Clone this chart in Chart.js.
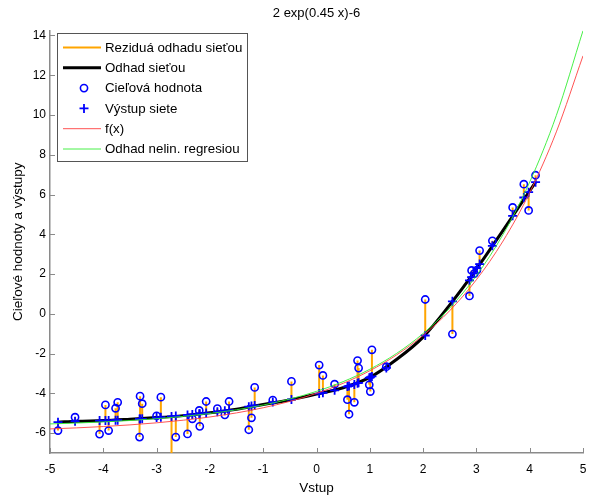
<!DOCTYPE html>
<html><head><meta charset="utf-8">
<script src="https://cdn.jsdelivr.net/npm/chart.js@4.4.0/dist/chart.umd.min.js"></script>
<style>html,body{margin:0;padding:0;background:#fff;}canvas{display:block;}</style>
</head><body>
<canvas id="c" width="591" height="497"></canvas>
<script>
const titleText = '2 exp(0.45 x)-6';
const xTitle = 'Vstup';
const yTitle = 'Cieľové hodnoty a výstupy';
const seriesNames = ['Reziduá odhadu sieťou', 'Odhad sieťou', 'Cieľová hodnota', 'Výstup siete', 'f(x)', 'Odhad nelin. regresiou'];
const xTicks = [-5, -4, -3, -2, -1, 0, 1, 2, 3, 4, 5];
const yTicks = [-6, -4, -2, 0, 2, 4, 6, 8, 10, 12, 14];

// training samples: input, target value, network output
const sampleX = [-4.85, -4.53, -4.07, -3.96, -3.90, -3.77, -3.73, -3.32, -3.31, -3.27, -3.00, -2.92, -2.72, -2.64, -2.42, -2.33, -2.20, -2.19, -2.07, -1.86, -1.72, -1.64, -1.27, -1.22, -1.16, -0.82, -0.47, 0.05, 0.12, 0.34, 0.58, 0.61, 0.71, 0.77, 0.79, 0.99, 1.01, 1.04, 1.31, 2.04, 2.55, 2.87, 2.91, 2.96, 3.01, 3.06, 3.30, 3.68, 3.89, 3.98, 4.11];
const targetY = [-5.87, -5.20, -6.05, -4.58, -5.87, -4.75, -4.45, -6.20, -4.14, -4.52, -5.13, -4.19, -7.60, -6.20, -6.04, -5.28, -4.86, -5.66, -4.41, -4.77, -5.08, -4.41, -5.83, -5.23, -3.70, -4.34, -3.40, -2.58, -3.10, -3.54, -4.32, -5.05, -4.45, -2.35, -2.73, -3.57, -3.91, -1.81, -2.66, 0.72, -1.02, 0.90, 2.18, 2.02, 2.20, 3.18, 3.67, 5.35, 6.52, 5.20, 6.97];
const outputY = [-5.45, -5.40, -5.37, -5.37, -5.36, -5.35, -5.35, -5.29, -5.29, -5.28, -5.22, -5.20, -5.16, -5.14, -5.09, -5.06, -5.02, -5.02, -4.99, -4.92, -4.87, -4.84, -4.67, -4.64, -4.61, -4.44, -4.31, -4.01, -3.97, -3.85, -3.66, -3.63, -3.55, -3.49, -3.47, -3.22, -3.19, -3.15, -2.72, -1.09, 0.63, 1.68, 1.85, 2.05, 2.30, 2.50, 3.42, 4.93, 5.85, 6.12, 6.62];

// network estimate curve
const netX = [-4.85, -4.5, -4.0, -3.5, -3.0, -2.5, -2.0, -1.5, -1.0, -0.5, 0.0, 0.5, 1.0, 1.5, 2.0, 2.5, 3.0, 3.5, 4.11];
const netY = [-5.45, -5.40, -5.37, -5.30, -5.22, -5.12, -4.98, -4.80, -4.56, -4.33, -4.04, -3.72, -3.20, -2.30, -1.17, 0.45, 2.25, 4.20, 6.62];

// f(x) and regression estimate curves
const curveX = [-5, -4.5, -4, -3.5, -3, -2.5, -2, -1.5, -1, -0.5, 0, 0.5, 1, 1.5, 2, 2.5, 3, 3.5, 4, 4.5, 5];
const fY = [-5.789, -5.736, -5.669, -5.586, -5.482, -5.351, -5.187, -4.982, -4.725, -4.403, -4.000, -3.495, -2.863, -2.072, -1.081, 0.160, 1.715, 3.661, 6.099, 9.152, 12.975];
const regY = [-5.537, -5.493, -5.437, -5.366, -5.275, -5.159, -5.012, -4.825, -4.587, -4.285, -3.900, -3.411, -2.788, -1.996, -0.989, 0.291, 1.920, 3.992, 6.627, 9.979, 14.24];

const FONT = '"Liberation Sans", Arial, Helvetica, sans-serif';
const AXIS = '#8a8a8a';
const ORANGE = '#FFA500';

const residualPts = [];
sampleX.forEach((x, i) => {
  residualPts.push({x: x, y: outputY[i]}, {x: x, y: targetY[i]}, {x: x, y: null});
});
const zip = (xs, ys) => xs.map((x, i) => ({x: x, y: ys[i]}));

const datasets = [
  {label: seriesNames[0], type: 'line', data: residualPts, borderColor: ORANGE, borderWidth: 2, pointRadius: 0, spanGaps: false, tension: 0, order: 6, _leg: 'line'},
  {label: seriesNames[1], type: 'line', data: zip(netX, netY), borderColor: '#000', borderWidth: 3, pointRadius: 0, cubicInterpolationMode: 'monotone', order: 5, _leg: 'line'},
  {label: seriesNames[2], type: 'scatter', data: zip(sampleX, targetY), showLine: false, pointStyle: 'circle', pointRadius: 3.6, borderColor: '#0000FF', backgroundColor: 'rgba(0,0,0,0)', pointBorderWidth: 1.6, order: 4, _leg: 'circle'},
  {label: seriesNames[3], type: 'scatter', data: zip(sampleX, outputY), showLine: false, pointStyle: 'cross', pointRadius: 4.5, borderColor: '#0000FF', pointBorderWidth: 1.8, order: 3, _leg: 'cross'},
  {label: seriesNames[4], type: 'line', data: zip(curveX, fY), borderColor: '#FF4040', borderWidth: 0.9, pointRadius: 0, cubicInterpolationMode: 'monotone', order: 2, _leg: 'line'},
  {label: seriesNames[5], type: 'line', data: zip(curveX, regY), borderColor: '#33EE33', borderWidth: 0.9, pointRadius: 0, cubicInterpolationMode: 'monotone', order: 1, _leg: 'line'}
];

const decor = {
  id: 'decor',
  afterDraw(chart) {
    const ctx = chart.ctx, xs = chart.scales.x, ys = chart.scales.y, ca = chart.chartArea;
    ctx.save();
    // inward tick marks
    ctx.strokeStyle = AXIS; ctx.lineWidth = 1;
    ctx.beginPath();
    xs.ticks.forEach(t => { const p = Math.round(xs.getPixelForValue(t.value)) + 0.5; ctx.moveTo(p, ca.bottom); ctx.lineTo(p, ca.bottom - 5); });
    ys.ticks.forEach(t => { const p = Math.round(ys.getPixelForValue(t.value)) + 0.5; ctx.moveTo(ca.left, p); ctx.lineTo(ca.left + 5, p); });
    ctx.stroke();
    // title
    ctx.fillStyle = '#000'; ctx.font = '13px ' + FONT; ctx.textAlign = 'center'; ctx.textBaseline = 'middle';
    ctx.fillText(titleText, (ca.left + ca.right) / 2, 13);
    // legend
    const L = 57, T = 33, W = 190, H = 128;
    ctx.fillStyle = '#fff'; ctx.fillRect(L, T, W, H);
    ctx.strokeStyle = '#555'; ctx.lineWidth = 1; ctx.strokeRect(L + 0.5, T + 0.5, W, H);
    ctx.font = '13.3px ' + FONT;
    chart.data.datasets.forEach((ds, i) => {
      const y = 47.5 + i * 20.3;
      if (ds._leg === 'line') {
        ctx.strokeStyle = ds.borderColor; ctx.lineWidth = ds.borderWidth;
        ctx.beginPath(); ctx.moveTo(63, y); ctx.lineTo(101, y); ctx.stroke();
      } else if (ds._leg === 'circle') {
        ctx.strokeStyle = ds.borderColor; ctx.lineWidth = ds.pointBorderWidth;
        ctx.beginPath(); ctx.arc(84, y, ds.pointRadius, 0, Math.PI * 2); ctx.stroke();
      } else {
        ctx.strokeStyle = ds.borderColor; ctx.lineWidth = ds.pointBorderWidth;
        ctx.beginPath(); ctx.moveTo(84 - ds.pointRadius, y); ctx.lineTo(84 + ds.pointRadius, y);
        ctx.moveTo(84, y - ds.pointRadius); ctx.lineTo(84, y + ds.pointRadius); ctx.stroke();
      }
      ctx.fillStyle = '#000'; ctx.textAlign = 'left'; ctx.textBaseline = 'middle';
      ctx.fillText(ds.label, 105, y + 0.5);
    });
    ctx.restore();
  }
};

new Chart(document.getElementById('c'), {
  type: 'scatter',
  data: {datasets: datasets},
  options: {
    responsive: false, animation: false, devicePixelRatio: 1,
    layout: {padding: {top: 30.5, right: 8, left: 0, bottom: 0}},
    plugins: {legend: {display: false}, tooltip: {enabled: false}, title: {display: false}},
    scales: {
      x: {
        type: 'linear', min: -5, max: 5,
        afterBuildTicks: s => { s.ticks = xTicks.map(v => ({value: v})); },
        afterFit: s => { s.height = 44; s.paddingLeft = 0; s.paddingRight = 0; },
        grid: {display: false, drawTicks: false},
        border: {display: true, color: AXIS, width: 1.5},
        ticks: {color: '#000', font: {family: FONT, size: 12}, padding: 9, maxRotation: 0, callback: v => String(v)},
        title: {display: true, text: xTitle, color: '#000', font: {family: FONT, size: 13.5}, padding: {top: 0, bottom: 1}}
      },
      y: {
        type: 'linear', min: -7, max: 14.25,
        afterBuildTicks: s => { s.ticks = yTicks.map(v => ({value: v})); },
        afterFit: s => { s.width = 50; s.paddingTop = 0; s.paddingBottom = 0; },
        grid: {display: false, drawTicks: false},
        border: {display: true, color: AXIS, width: 1.5},
        ticks: {color: '#000', font: {family: FONT, size: 12}, padding: 4, callback: v => String(v)},
        title: {display: true, text: yTitle, color: '#000', font: {family: FONT, size: 13.5}, padding: {top: 10.5, bottom: 0}}
      }
    }
  },
  plugins: [decor]
});
</script>
</body></html>
